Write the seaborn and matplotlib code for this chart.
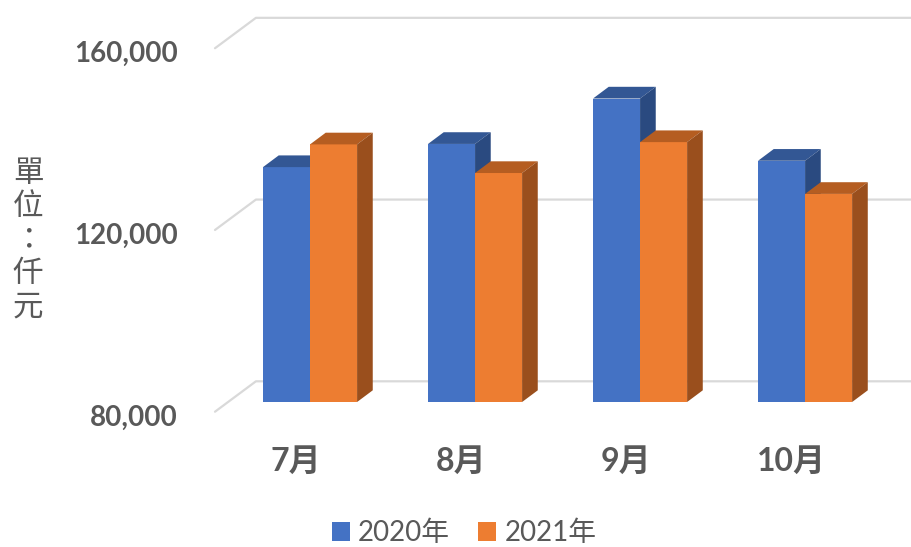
import matplotlib.pyplot as plt
import numpy as np
import pandas as pd
import seaborn as sns
from matplotlib.patches import Polygon

# data (單位：仟元)
months = ['7月', '8月', '9月', '10月']
years = ['2020年', '2021年']
sales_2020 = [131700, 136800, 146800, 133100]
sales_2021 = [136700, 130400, 137200, 125800]
grid_values = [80000, 120000, 160000]

df = pd.DataFrame({
    'month': months * 2,
    'year': [years[0]] * len(months) + [years[1]] * len(months),
    'value': sales_2020 + sales_2021,
})

front_cols = {'2020年': '#4472C4', '2021年': '#ED7D31'}
top_cols = ['#335794', '#B55D21']
side_cols = ['#2A4A80', '#9A4F1D']
grey = '#595959'

sns.set_style('white')
plt.rcParams['font.family'] = ['Lato', 'Noto Sans CJK TC']

fig = plt.figure(figsize=(9.12, 5.47), dpi=100)
ax = fig.add_axes([215 / 912, 127 / 547, 697 / 912, 420 / 547])

base = 80000
# fake 3d depth offsets (x in category units, y in value units)
bar_dx, bar_dy = 0.095, 2575
back_dx, back_dy = 0.169, 4556
front_dx, front_dy = -0.079, -2135

sns.barplot(data=df, x='month', y='value', hue='year', palette=front_cols,
            width=0.57, saturation=1, errorbar=None, linewidth=0, ax=ax)

xmin, xmax = -0.576, 3.648
ax.set_xlim(xmin, xmax)
ax.set_ylim(76040, 168480)

# 3d faces for each bar
for k, bars in enumerate(ax.containers):
    for p in bars:
        x0, w, h = p.get_x(), p.get_width(), p.get_height()
        p.set_y(base)
        p.set_height(h - base)
        p.set_zorder(2 + k)
        top = Polygon([(x0, h), (x0 + w, h), (x0 + w + bar_dx, h + bar_dy), (x0 + bar_dx, h + bar_dy)],
                      closed=True, facecolor=top_cols[k], edgecolor='none', zorder=2 + k)
        side = Polygon([(x0 + w, base), (x0 + w, h), (x0 + w + bar_dx, h + bar_dy),
                        (x0 + w + bar_dx, base + bar_dy)],
                       closed=True, facecolor=side_cols[k], edgecolor='none', zorder=2 + k)
        ax.add_patch(top)
        ax.add_patch(side)

# back wall gridlines with the floor diagonals
x_back = xmin + (back_dx - front_dx)
for v in grid_values:
    ax.plot([xmin, x_back, xmax], [v + front_dy, v + back_dy, v + back_dy],
            color='#D9D9D9', lw=1.6, zorder=1, clip_on=False)

ax.set_yticks([v + front_dy - 700 for v in grid_values], [f'{v:,}' for v in grid_values],
              fontsize=20, fontweight='bold', color=grey)
ax.set_xticks(np.arange(len(months)) - 0.085, months,
              fontsize=23, fontweight='bold', color=grey)
ax.tick_params(axis='y', length=0, pad=27)
ax.tick_params(axis='x', length=0, pad=19)
ax.set_xlabel('')
ax.set_ylabel('')
for s in ax.spines.values():
    s.set_visible(False)

fig.text(28 / 912, 1 - 240 / 547, '\n'.join('單位：仟元'), ha='center', va='center',
         fontsize=22, fontweight='light', color=grey, linespacing=1.1,
         family=['Noto Sans CJK TC'])

handles, labels = ax.get_legend_handles_labels()
ax.legend(handles, labels, loc='center', bbox_to_anchor=(464 / 912, 1 - 533 / 547),
          bbox_transform=fig.transFigure, ncol=2, frameon=False, fontsize=20,
          labelcolor=grey, handlelength=0.65, handleheight=0.65, handletextpad=0.3,
          columnspacing=1.0, borderpad=0)

fig.savefig('out.png', dpi=100)
